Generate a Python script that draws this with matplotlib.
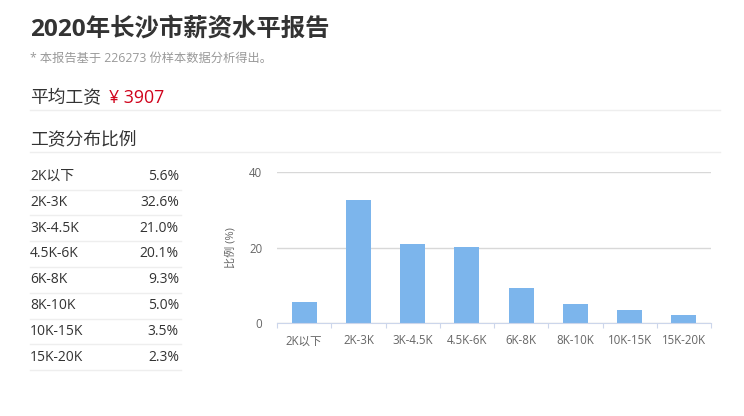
import matplotlib.pyplot as plt
import numpy as np

plt.rcParams['font.family'] = ['Open Sans', 'Noto Sans CJK SC', 'DejaVu Sans']

categories = ["2K以下", "2K-3K", "3K-4.5K", "4.5K-6K", "6K-8K", "8K-10K", "10K-15K", "15K-20K"]
percents = [5.6, 32.6, 21.0, 20.1, 9.3, 5.0, 3.5, 2.3]
avg_salary = 3907
sample_count = 226273

fig = plt.figure(figsize=(7.44, 4.16), dpi=100)

# page layer, pixel coordinates (y down)
bg = fig.add_axes([0, 0, 1, 1])
bg.set_xlim(0, 744)
bg.set_ylim(416, 0)
bg.axis("off")

bg.text(30, 30, "2020年长沙市薪资水平报告", fontsize=17.6, fontweight="bold",
        color="#333333", va="center")
bg.text(30, 58, "* 本报告基于 %d 份样本数据分析得出。" % sample_count, fontsize=8.8,
        color="#999999", va="center")
bg.text(30, 98, "平均工资", fontsize=12.8, color="#333333", va="center")
bg.text(109, 98, "¥ %d" % avg_salary, fontsize=12.8, color="#d0021b", va="center")
bg.plot([30, 720], [110, 110], color="#eeeeee", lw=1)
bg.text(30, 140, "工资分布比例", fontsize=12.8, color="#333333", va="center")
bg.plot([30, 720], [152, 152], color="#eeeeee", lw=1)

row_h = 25.8
for i, (c, p) in enumerate(zip(categories, percents)):
    yc = 176.5 + i * row_h
    bg.text(30, yc, c, fontsize=10, color="#333333", va="center")
    bg.text(179, yc, "%.1f%%" % p, fontsize=10, color="#333333", va="center", ha="right")
    bg.plot([30, 181], [yc + 13, yc + 13], color="#eeeeee", lw=1)

# bar chart
ax = fig.add_axes([277 / 744, 92.7 / 416, 434 / 744, 151 / 416])
x = np.arange(len(categories))
ax.bar(x, percents, width=0.46, color="#7cb5ec", zorder=2)
ax.set_xlim(-0.5, len(categories) - 0.5)
ax.set_ylim(0, 40)
ax.set_yticks([0, 20, 40])
ax.yaxis.grid(True, color="#d8d8d8", lw=1)
ax.set_axisbelow(True)
for s in ["top", "right", "left"]:
    ax.spines[s].set_visible(False)
ax.spines["bottom"].set_color("#ccd6eb")
ax.tick_params(axis="y", length=0, pad=10.5, labelsize=8.3, labelcolor="#666666")

ax.set_xticks(np.arange(len(categories) + 1) - 0.5)
ax.set_xticklabels([])
ax.tick_params(axis="x", length=3.6, color="#ccd6eb")
ax.set_xticks(x, minor=True)
ax.set_xticklabels(categories, minor=True)
ax.tick_params(axis="x", which="minor", length=0, pad=8, labelsize=8.3, labelcolor="#666666")

ax.set_ylabel("比例 (%)", fontsize=8, color="#666666", labelpad=9)

fig.savefig("out.png", dpi=100)
